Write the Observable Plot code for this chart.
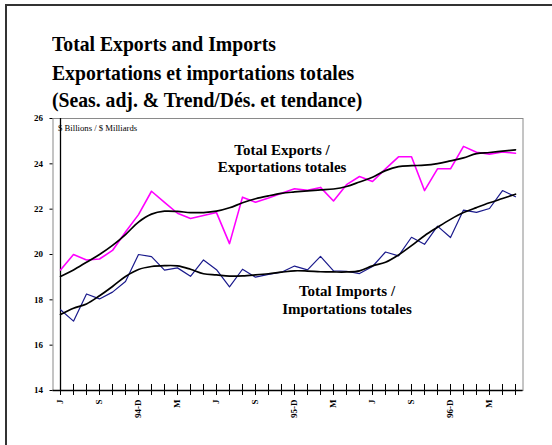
<!DOCTYPE html>
<html>
<head>
<meta charset="utf-8">
<script src="https://cdn.jsdelivr.net/npm/d3@7"></script>
<script src="https://cdn.jsdelivr.net/npm/@observablehq/plot@0.6"></script>
<style>
  html, body { margin: 0; padding: 0; background: #fff; overflow: hidden; }
  #wrap { position: relative; width: 552px; height: 445px; overflow: hidden; font-family: "Liberation Serif", "Times New Roman", serif; }
  #wrap svg { position: absolute; left: 0; top: 0; }
  .border { position: absolute; left: 5px; top: 4px; width: 700px; height: 700px; border: 2px solid #333; box-sizing: border-box; }
  .t { position: absolute; white-space: nowrap; line-height: 1; color: #000; }
  .title { font-size: 21.5px; font-weight: bold; transform: scaleX(0.915); transform-origin: 0 0; }
  .ann { font-size: 15px; font-weight: bold; }
  .units { font-size: 8.7px; }
</style>
</head>
<body>
<div id="wrap"><div class="border"></div></div>
<script>
// ---- data ----
const months = ["1994-06","1994-07","1994-08","1994-09","1994-10","1994-11","1994-12",
  "1995-01","1995-02","1995-03","1995-04","1995-05","1995-06","1995-07","1995-08","1995-09","1995-10","1995-11","1995-12",
  "1996-01","1996-02","1996-03","1996-04","1996-05","1996-06","1996-07","1996-08","1996-09","1996-10","1996-11","1996-12",
  "1997-01","1997-02","1997-03","1997-04","1997-05"];
const tickLabels = ["J","","","S","","","94-D","","","M","","","J","","","S","","","95-D","","","M","","",
  "J","","","S","","","96-D","","","M","",""];
const exportsSA = [19.32,20.0,19.76,19.8,20.18,20.99,21.76,22.79,22.3,21.82,21.59,21.72,21.85,20.48,22.53,22.31,22.49,22.7,22.9,22.83,22.96,22.36,23.08,23.44,23.22,23.78,24.31,24.31,22.82,23.78,23.78,24.77,24.51,24.43,24.52,24.47];
const exportsTrend = [19.03,19.32,19.66,20.0,20.4,20.88,21.43,21.78,21.91,21.9,21.85,21.85,21.91,22.06,22.28,22.46,22.59,22.7,22.76,22.81,22.85,22.89,23.0,23.2,23.41,23.7,23.88,23.92,23.94,24.01,24.13,24.26,24.45,24.5,24.56,24.62];
const importsSA = [17.56,17.06,18.26,18.04,18.34,18.81,20.0,19.91,19.31,19.41,19.04,19.76,19.33,18.57,19.35,19.0,19.12,19.22,19.49,19.32,19.92,19.28,19.26,19.16,19.47,20.11,19.94,20.76,20.45,21.25,20.75,21.96,21.86,22.03,22.82,22.55];
const importsTrend = [17.35,17.63,17.82,18.18,18.59,19.03,19.34,19.47,19.51,19.5,19.35,19.15,19.1,19.05,19.06,19.1,19.15,19.22,19.28,19.27,19.24,19.23,19.23,19.28,19.5,19.66,19.98,20.39,20.83,21.2,21.55,21.85,22.07,22.28,22.47,22.66];
const yTicks = [14,16,18,20,22,24,26];
const titleLines = ["Total Exports and Imports","Exportations et importations totales","(Seas. adj. & Trend/Dés. et tendance)"];
const unitsText = "$ Billions / $ Milliards";
const exportsLabel = ["Total Exports /","Exportations totales"];
const importsLabel = ["Total Imports /","Importations totales"];

// ---- build rows ----
const rows = (vals) => months.map((m, i) => ({month: m, value: vals[i]}));

const chart = Plot.plot({
  width: 552,
  height: 445,
  marginLeft: 52.5,
  marginRight: 29.5,
  marginTop: 118,
  marginBottom: 55,
  style: {fontFamily: "'Liberation Serif', 'Times New Roman', serif", fontSize: "9px", fontWeight: "bold", background: "transparent", color: "#000"},
  x: {type: "point", domain: months, padding: 0},
  y: {domain: [14, 26]},
  marks: [
    Plot.frame({stroke: "#8a8a8a", strokeWidth: 1}),
    Plot.axisY({ticks: yTicks, tickSize: 3, tickPadding: 7, label: null, letterSpacing: 1}),
    Plot.axisX({ticks: months, tickSize: 11, dy: -6, tickPadding: 4, tickRotate: -90, label: null,
      tickFormat: (d) => tickLabels[months.indexOf(d)]}),
    Plot.ruleY([14], {stroke: "#000", strokeWidth: 1.3}),
    Plot.ruleX([months[0]], {stroke: "#000", strokeWidth: 1.3}),
    Plot.line(rows(exportsSA), {x: "month", y: "value", stroke: "#ff00ff", strokeWidth: 1.6}),
    Plot.line(rows(importsSA), {x: "month", y: "value", stroke: "#1a1a8c", strokeWidth: 1.2}),
    Plot.line(rows(exportsTrend), {x: "month", y: "value", stroke: "#000", strokeWidth: 1.7, curve: "catmull-rom"}),
    Plot.line(rows(importsTrend), {x: "month", y: "value", stroke: "#000", strokeWidth: 1.7, curve: "catmull-rom"})
  ]
});

const wrap = document.getElementById("wrap");
wrap.appendChild(chart);

// text placement helper: baseline-based (Liberation Serif ascent 0.891, descent 0.216)
function place(text, cls, size, x, baseline, center) {
  const d = document.createElement("div");
  d.className = "t " + cls;
  d.textContent = text;
  d.style.top = (baseline - size * (0.891 - 0.0535)) + "px";
  d.style.left = x + "px";
  if (center) d.style.transform = "translateX(-50%)";
  wrap.appendChild(d);
}
const titleBaselines = [52, 81, 108];
titleLines.forEach((t, i) => place(t, "title", 21.5, 52, titleBaselines[i], false));
place(unitsText, "units", 8.7, 58, 131, false);
place(exportsLabel[0], "ann", 15, 282, 156, true);
place(exportsLabel[1], "ann", 15, 282, 172.5, true);
place(importsLabel[0], "ann", 15, 347, 297, true);
place(importsLabel[1], "ann", 15, 347, 315, true);
</script>
</body>
</html>
